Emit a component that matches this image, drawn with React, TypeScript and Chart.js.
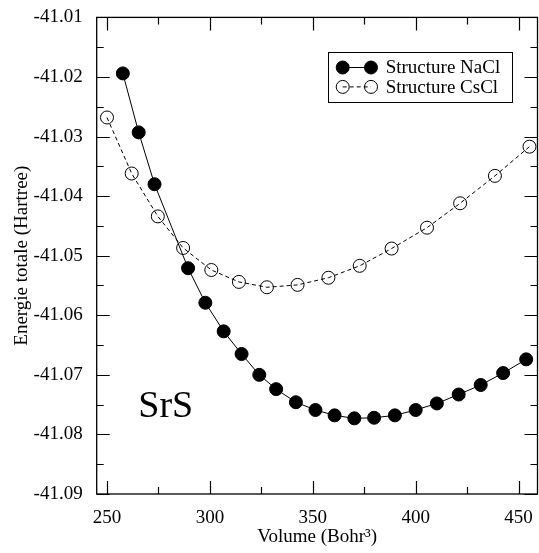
import React, { useEffect, useRef } from "react";
import { Chart, registerables } from "chart.js";

Chart.register(...registerables);

const naclVolume = [257.7, 265.4, 273.1, 289.4, 297.8, 306.7, 315.4, 324.0, 332.2, 341.8, 351.3, 360.6, 370.2, 379.8, 389.9, 400.0, 410.3, 420.9, 431.6, 442.5, 453.7];
const naclEnergy = [-41.0194, -41.0293, -41.038, -41.0521, -41.0579, -41.0627, -41.0665, -41.07, -41.0724, -41.0746, -41.0759, -41.0768, -41.0773, -41.0772, -41.0768, -41.0759, -41.0748, -41.0733, -41.0717, -41.0697, -41.0674];

const csclVolume = [250.0, 262.0, 274.7, 287.0, 300.7, 314.1, 327.7, 342.6, 357.6, 372.8, 388.3, 405.5, 421.6, 438.5, 455.3];
const csclEnergy = [-41.0268, -41.0362, -41.0434, -41.0487, -41.0524, -41.0544, -41.0553, -41.0549, -41.0537, -41.0517, -41.0488, -41.0453, -41.0412, -41.0366, -41.0317];

const xMajorTicks = [250, 300, 350, 400, 450];
const xMinorTicks = [275, 325, 375, 425];
const yMajorTicks = [-41.09, -41.08, -41.07, -41.06, -41.05, -41.04, -41.03, -41.02, -41.01];
const yMinorTicks = [-41.085, -41.075, -41.065, -41.055, -41.045, -41.035, -41.025, -41.015];

const seriesLabels = ["Structure NaCl", "Structure CsCl"];
const annotationText = "SrS";
const xTitle = "Volume (Bohr\u00B3)";
const yTitle = "Energie totale (Hartree)";

const FONT = "'Liberation Serif', 'Times New Roman', serif";

const framePlugin = {
  id: "frameTicks",
  afterDatasetsDraw(chart: any) {
    const { ctx, chartArea, scales } = chart;
    const { left, right, top, bottom } = chartArea;
    const xs = scales.x;
    const ys = scales.y;
    ctx.save();
    ctx.strokeStyle = "#000";
    ctx.lineWidth = 1.3;
    ctx.strokeRect(left, top, right - left, bottom - top);
    ctx.lineWidth = 1.2;
    const major = 13;
    const minor = 7;
    ctx.beginPath();
    const xt = (vals: number[], len: number) => {
      vals.forEach((v) => {
        const px = Math.round(xs.getPixelForValue(v)) + 0.5;
        ctx.moveTo(px, bottom);
        ctx.lineTo(px, bottom - len);
        ctx.moveTo(px, top);
        ctx.lineTo(px, top + len);
      });
    };
    const yt = (vals: number[], len: number) => {
      vals.forEach((v) => {
        const py = Math.round(ys.getPixelForValue(v)) + 0.5;
        ctx.moveTo(left, py);
        ctx.lineTo(left + len, py);
        ctx.moveTo(right, py);
        ctx.lineTo(right - len, py);
      });
    };
    xt(xMajorTicks, major);
    xt(xMinorTicks, minor);
    yt(yMajorTicks, major);
    yt(yMinorTicks, minor);
    ctx.stroke();

    // annotation
    ctx.fillStyle = "#000";
    ctx.font = `38px ${FONT}`;
    ctx.textAlign = "left";
    ctx.textBaseline = "alphabetic";
    ctx.fillText(annotationText, xs.getPixelForValue(265.2), ys.getPixelForValue(-41.0771));

    // legend
    const bx = right - 209.2;
    const by = top + 34.5;
    const bw = 184;
    const bh = 50;
    ctx.lineWidth = 1;
    ctx.strokeRect(Math.round(bx) + 0.5, Math.round(by) + 0.5, bw, bh);
    const rows = [by + 15.6, by + 35];
    const m1 = bx + 14.4;
    const m2 = bx + 42.7;
    chart.data.datasets.forEach((ds: any, i: number) => {
      const ry = rows[i];
      ctx.beginPath();
      ctx.setLineDash(ds.borderDash || []);
      ctx.lineWidth = 1;
      ctx.strokeStyle = "#000";
      ctx.moveTo(m1, ry);
      ctx.lineTo(m2, ry);
      ctx.stroke();
      ctx.setLineDash([]);
      [m1, m2].forEach((mx) => {
        ctx.beginPath();
        ctx.arc(mx, ry, 6.5, 0, Math.PI * 2);
        if (ds.pointBackgroundColor !== "rgba(0,0,0,0)") {
          ctx.fillStyle = "#000";
          ctx.fill();
        }
        ctx.stroke();
      });
      ctx.fillStyle = "#000";
      ctx.font = `19px ${FONT}`;
      ctx.textBaseline = "middle";
      ctx.fillText(ds.label, bx + 57.4, ry + 1);
    });
    ctx.restore();
  },
};

export default function App() {
  const ref = useRef<HTMLCanvasElement>(null);
  useEffect(() => {
    const nacl = naclVolume.map((v, i) => ({ x: v, y: naclEnergy[i] }));
    const cscl = csclVolume.map((v, i) => ({ x: v, y: csclEnergy[i] }));
    const chart = new Chart(ref.current!, {
      type: "line",
      data: {
        datasets: [
          {
            label: seriesLabels[0],
            data: nacl,
            borderColor: "#000",
            borderWidth: 1,
            pointRadius: 6.5,
            pointBorderWidth: 1,
            pointBackgroundColor: "#000",
            pointBorderColor: "#000",
            tension: 0,
          },
          {
            label: seriesLabels[1],
            data: cscl,
            borderColor: "#000",
            borderWidth: 1,
            borderDash: [4, 3],
            pointRadius: 6.5,
            pointBorderWidth: 1,
            pointBackgroundColor: "rgba(0,0,0,0)",
            pointBorderColor: "#000",
            tension: 0,
          },
        ],
      },
      options: {
        responsive: false,
        animation: false,
        layout: { padding: { top: 12, right: 2.5, left: 0, bottom: 0 } },
        plugins: { legend: { display: false }, tooltip: { enabled: false } },
        scales: {
          x: {
            type: "linear",
            min: 245,
            max: 459.2,
            grid: { display: false },
            border: { display: false },
            afterBuildTicks: (s: any) => {
              s.ticks = xMajorTicks.map((v) => ({ value: v }));
            },
            afterFit: (s: any) => {
              s.height = 59;
            },
            ticks: {
              color: "#000",
              font: { family: FONT, size: 19 },
              padding: 5,
              maxRotation: 0,
              callback: (v: any) => String(v),
            },
            title: {
              display: true,
              text: xTitle,
              color: "#000",
              font: { family: FONT, size: 19 },
              padding: { top: 0, bottom: 4.6 },
            },
          },
          y: {
            type: "linear",
            min: -41.09,
            max: -41.01,
            grid: { display: false },
            border: { display: false },
            afterBuildTicks: (s: any) => {
              s.ticks = yMajorTicks.map((v) => ({ value: v }));
            },
            afterFit: (s: any) => {
              s.width = 96.7;
            },
            ticks: {
              color: "#000",
              font: { family: FONT, size: 19 },
              padding: 6,
              callback: (v: any) => Number(v).toFixed(2),
            },
            title: {
              display: true,
              text: yTitle,
              color: "#000",
              font: { family: FONT, size: 19 },
              padding: { top: 10.6, bottom: 0 },
            },
          },
        },
      },
      plugins: [framePlugin],
    });
    return () => chart.destroy();
  }, []);
  return (
    <div style={{ position: "fixed", left: 0, top: 0, width: 539, height: 553, overflow: "hidden", background: "#fff" }}>
      <canvas ref={ref} width={545} height={553} style={{ display: "block" }} />
    </div>
  );
}
